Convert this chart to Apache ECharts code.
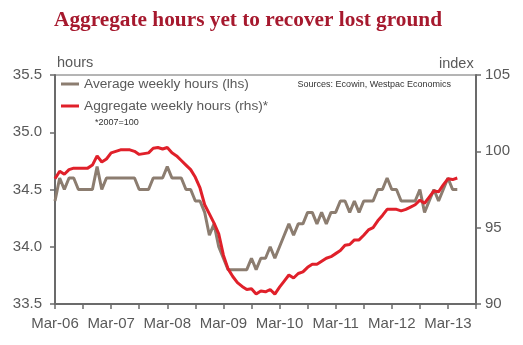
<!DOCTYPE html>
<html>
<head>
<meta charset="utf-8">
<script src="https://cdn.jsdelivr.net/npm/echarts@6/dist/echarts.min.js"></script>
<style>
html,body{margin:0;padding:0;background:#fff;}
#chart{width:523px;height:345px;}
</style>
</head>
<body>
<div id="chart"></div>
<script>
// Months since Mar-06 (0 = Mar-06), monthly through May-13
var monthIndex = [];
for (var k = 0; k < 87; k++) monthIndex.push(k);

var xTickLabels = ['Mar-06','Mar-07','Mar-08','Mar-09','Mar-10','Mar-11','Mar-12','Mar-13'];

var avgWeeklyHours = [
  34.4,34.6,34.5,34.6,34.6,34.5,34.5,34.5,34.5,34.7,34.5,34.6,
  34.6,34.6,34.6,34.6,34.6,34.6,34.5,34.5,34.5,34.6,34.6,34.6,
  34.7,34.6,34.6,34.6,34.5,34.5,34.4,34.4,34.3,34.1,34.2,34.0,
  33.9,33.8,33.8,33.8,33.8,33.8,33.9,33.8,33.9,33.9,34.0,33.9,
  34.0,34.1,34.2,34.1,34.2,34.2,34.3,34.3,34.2,34.3,34.2,34.3,
  34.3,34.4,34.4,34.3,34.4,34.3,34.4,34.4,34.4,34.5,34.5,34.6,
  34.5,34.5,34.4,34.4,34.4,34.4,34.5,34.3,34.4,34.5,34.4,34.5,
  34.6,34.5,34.5
];

var aggWeeklyHours = [
  98.2,98.7,98.5,98.8,98.9,98.9,98.9,98.9,99.1,99.7,99.3,99.5,
  99.9,100.0,100.1,100.1,100.1,100.0,99.8,99.85,99.9,100.2,100.25,100.15,
  100.25,99.9,99.7,99.4,99.1,98.8,98.3,97.6,96.5,95.9,95.3,94.6,
  93.2,92.3,91.8,91.4,91.15,90.95,91.0,90.65,90.85,90.8,90.95,90.65,
  91.1,91.5,91.9,91.7,92.0,92.1,92.4,92.6,92.6,92.8,93.0,93.1,
  93.3,93.5,93.85,93.9,94.2,94.2,94.5,94.85,95.0,95.45,95.8,96.2,
  96.2,96.2,96.1,96.2,96.35,96.5,96.8,96.6,97.0,97.4,97.35,97.8,
  98.2,98.15,98.25
];

var leftTicks = [33.5, 34.0, 34.5, 35.0, 35.5];
var rightTicks = [90, 95, 100, 105];

var axisColor = '#6b6b6b';
var textColor = '#595959';

var chart = echarts.init(document.getElementById('chart'));
chart.setOption({
  animation: false,
  backgroundColor: '#ffffff',
  title: {
    text: 'Aggregate hours yet to recover lost ground',
    left: 54, top: 10, padding: 0,
    textStyle: {fontFamily: 'Liberation Serif', fontWeight: 'bold', fontSize: 21.3, color: '#A6192E'}
  },
  grid: {left: 55, right: 47, top: 75, bottom: 41, show: true, borderColor: axisColor, borderWidth: 1},
  legend: {
    orient: 'vertical', left: 61, top: 77, itemGap: 8, padding: 0,
    itemWidth: 18, itemHeight: 3, icon: 'rect',
    textStyle: {fontFamily: 'Liberation Sans', fontSize: 13.7, color: textColor},
    data: ['Average weekly hours (lhs)', 'Aggregate weekly hours (rhs)*']
  },
  graphic: [
    {type: 'text', left: 95, top: 118.5, style: {text: '*2007=100', font: '9px "Liberation Sans"', fill: '#333'}},
    {type: 'text', right: 72, top: 80, style: {text: 'Sources: Ecowin, Westpac Economics', font: '9px "Liberation Sans"', fill: '#333', textAlign: 'right'}},
    {type: 'text', left: 57, top: 55, style: {text: 'hours', font: '14.5px "Liberation Sans"', fill: textColor}},
    {type: 'text', left: 439, top: 56, style: {text: 'index', font: '14.5px "Liberation Sans"', fill: textColor}}
  ],
  xAxis: {
    type: 'value', min: 0, max: 90, interval: 6,
    axisLine: {lineStyle: {color: axisColor, width: 2}},
    axisTick: {show: true, length: 5, lineStyle: {color: axisColor, width: 1.5}},
    splitLine: {show: false},
    axisLabel: {
      margin: 12, fontFamily: 'Liberation Sans', fontSize: 15, color: textColor,
      formatter: function (v) { return v % 12 === 0 ? (xTickLabels[v / 12] || '') : ''; }
    }
  },
  yAxis: [
    {
      type: 'value', min: leftTicks[0], max: leftTicks[leftTicks.length - 1], interval: 0.5, position: 'left',
      axisLine: {show: true, lineStyle: {color: axisColor, width: 2}},
      axisTick: {show: true, length: 5, lineStyle: {color: axisColor, width: 1.5}},
      splitLine: {show: false},
      axisLabel: {margin: 13, fontFamily: 'Liberation Sans', fontSize: 15, color: textColor,
        formatter: function (v) { return v.toFixed(1); }}
    },
    {
      type: 'value', min: rightTicks[0], max: rightTicks[rightTicks.length - 1], interval: 5, position: 'right',
      axisLine: {show: true, lineStyle: {color: axisColor, width: 2}},
      axisTick: {show: true, length: 5, lineStyle: {color: axisColor, width: 1.5}},
      splitLine: {show: false},
      axisLabel: {margin: 9, fontFamily: 'Liberation Sans', fontSize: 15, color: textColor}
    }
  ],
  series: [
    {
      name: 'Average weekly hours (lhs)', type: 'line', yAxisIndex: 0,
      data: monthIndex.map(function (m, i) { return [m, avgWeeklyHours[i]]; }),
      showSymbol: false, symbol: 'none',
      lineStyle: {color: '#8C7D70', width: 3}, itemStyle: {color: '#8C7D70'}
    },
    {
      name: 'Aggregate weekly hours (rhs)*', type: 'line', yAxisIndex: 1,
      data: monthIndex.map(function (m, i) { return [m, aggWeeklyHours[i]]; }),
      showSymbol: false, symbol: 'none',
      lineStyle: {color: '#E0202A', width: 3}, itemStyle: {color: '#E0202A'}
    }
  ]
});
</script>
</body>
</html>
